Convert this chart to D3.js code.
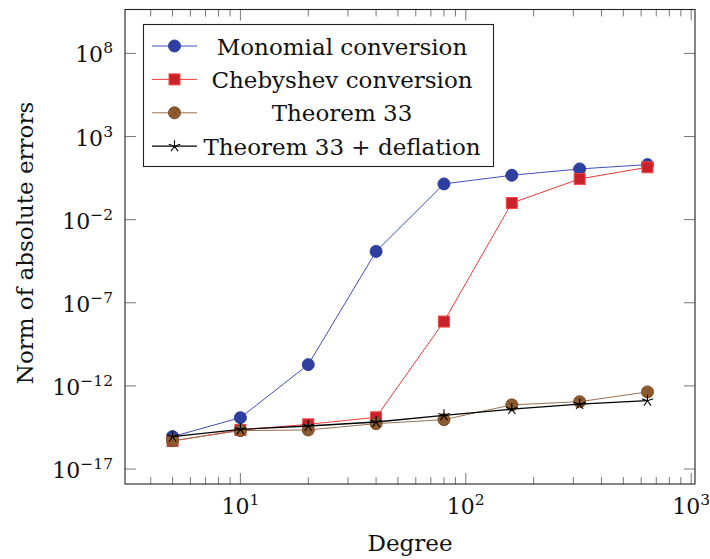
<!DOCTYPE html>
<html lang="en">
<head>
<meta charset="UTF-8">
<title>Norm of absolute errors vs degree</title>
<script src="https://d3js.org/d3.v7.min.js"></script>
<style>
  body { margin: 0; background: #fff; }
  text { font-family: "DejaVu Serif", serif; fill: #111; }
</style>
</head>
<body>
<svg width="710" height="559"></svg>
<script>
// data
const degrees = [5, 10, 20, 40, 80, 160, 320, 640];
const monomial  = [-15.05, -13.91, -10.72, -3.91, 0.15, 0.67, 1.05, 1.31];   // log10
const chebyshev = [-15.31, -14.65, -14.31, -13.89, -8.13, -1.00, 0.45, 1.15];
const theorem33 = [-15.30, -14.69, -14.65, -14.27, -14.03, -13.14, -12.95, -12.36];
const deflation = [-15.05, -14.61, -14.41, -14.17, -13.77, -13.40, -13.10, -12.89];
const seriesNames = ["Monomial conversion", "Chebyshev conversion", "Theorem 33", "Theorem 33 + deflation"];
const xTickExp = [1, 2, 3];
const yTickExp = [-17, -12, -7, -2, 3, 8];

const svg = d3.select("svg");
const pLeft = 125, pRight = 695, pTop = 9.5, pBottom = 484;

const x = d3.scaleLog().domain([Math.pow(10, 0.488), Math.pow(10, 3.017)]).range([pLeft, pRight]);
const y = d3.scaleLog().domain([Math.pow(10, -17.9), Math.pow(10, 10.64)]).range([pBottom, pTop]);

const series = [
  { name: seriesNames[0], vals: monomial,  line: "#4050b8", fill: "#2f3f9f", stroke: "#2f3f9f", mark: "circle" },
  { name: seriesNames[1], vals: chebyshev, line: "#f03a3a", fill: "#c9222b", stroke: "#f04848", mark: "square" },
  { name: seriesNames[2], vals: theorem33, line: "#9a7352", fill: "#8e5c30", stroke: "#7a4e26", mark: "otimes" },
  { name: seriesNames[3], vals: deflation, line: "#000",    fill: "none",    stroke: "#000",    mark: "star" }
];

// ticks
const xMinor = [];
for (let e = 0; e < 3; e++) for (let k = 2; k <= 9; k++) {
  const v = k * Math.pow(10, e);
  if (v >= x.domain()[0] && v <= x.domain()[1]) xMinor.push(v);
}
const ticks = svg.append("g").attr("stroke", "#555").attr("stroke-width", 0.8);
xMinor.forEach(v => {
  ticks.append("line").attr("x1", x(v)).attr("x2", x(v)).attr("y1", pBottom).attr("y2", pBottom - 7);
  ticks.append("line").attr("x1", x(v)).attr("x2", x(v)).attr("y1", pTop).attr("y2", pTop + 7);
});
xTickExp.forEach(e => {
  const v = Math.pow(10, e);
  ticks.append("line").attr("x1", x(v)).attr("x2", x(v)).attr("y1", pBottom).attr("y2", pBottom - 11);
  ticks.append("line").attr("x1", x(v)).attr("x2", x(v)).attr("y1", pTop).attr("y2", pTop + 11);
});
yTickExp.forEach(e => {
  const v = Math.pow(10, e);
  ticks.append("line").attr("x1", pLeft).attr("x2", pLeft + 11).attr("y1", y(v)).attr("y2", y(v));
  ticks.append("line").attr("x1", pRight).attr("x2", pRight - 11).attr("y1", y(v)).attr("y2", y(v));
});

function powLabel(g, e, px, py, anchor) {
  const t = g.append("text").attr("x", px).attr("y", py).attr("text-anchor", anchor)
    .style("font-size", "22px");
  t.append("tspan").text("10");
  t.append("tspan").attr("dy", -9).style("font-size", "15.5px")
    .text(e < 0 ? "\u2212" + (-e) : String(e));
}
const labels = svg.append("g");
xTickExp.forEach(e => powLabel(labels, e, x(Math.pow(10, e)), 514, "middle"));
yTickExp.forEach(e => powLabel(labels, e, 113, y(Math.pow(10, e)) + 9, "end"));

svg.append("text").attr("x", 410).attr("y", 551).attr("text-anchor", "middle")
  .style("font-size", "23px").text("Degree");
svg.append("text").attr("transform", "translate(33,243) rotate(-90)").attr("text-anchor", "middle")
  .style("font-size", "23px").text("Norm of absolute errors");

// markers
function drawMark(g, s, cx, cy) {
  if (s.mark === "circle") {
    g.append("circle").attr("cx", cx).attr("cy", cy).attr("r", 6).attr("fill", s.fill).attr("stroke", s.stroke);
  } else if (s.mark === "square") {
    g.append("rect").attr("x", cx - 5.5).attr("y", cy - 5.5).attr("width", 11).attr("height", 11)
      .attr("fill", s.fill).attr("stroke", s.stroke).attr("stroke-width", 1);
  } else if (s.mark === "otimes") {
    g.append("circle").attr("cx", cx).attr("cy", cy).attr("r", 6).attr("fill", s.fill).attr("stroke", s.stroke);
    const d = 6 * Math.SQRT1_2;
    g.append("path").attr("d", `M${cx - d},${cy - d}L${cx + d},${cy + d}M${cx - d},${cy + d}L${cx + d},${cy - d}`)
      .attr("stroke", s.stroke).attr("stroke-width", 0.8);
  } else {
    let p = "";
    for (let i = 0; i < 5; i++) {
      const a = -Math.PI / 2 + i * 2 * Math.PI / 5;
      p += `M${cx},${cy}L${cx + 6 * Math.cos(a)},${cy + 6 * Math.sin(a)}`;
    }
    g.append("path").attr("d", p).attr("stroke", s.stroke).attr("stroke-width", 1.1).attr("fill", "none");
  }
}

const line = d3.line().x(d => x(d[0])).y(d => y(Math.pow(10, d[1])));
const plot = svg.append("g");
series.forEach(s => {
  const pts = degrees.map((dg, i) => [dg, s.vals[i]]);
  plot.append("path").attr("d", line(pts)).attr("fill", "none")
    .attr("stroke", s.line).attr("stroke-width", s.mark === "star" ? 1.3 : 1);
  pts.forEach(p => drawMark(plot, s, x(p[0]), y(Math.pow(10, p[1]))));
});

// frame
svg.append("rect").attr("x", pLeft).attr("y", pTop).attr("width", pRight - pLeft).attr("height", pBottom - pTop)
  .attr("fill", "none").attr("stroke", "#222").attr("stroke-width", 1.1);

// legend
const lg = svg.append("g");
lg.append("rect").attr("x", 143.5).attr("y", 24.5).attr("width", 350).attr("height", 142)
  .attr("fill", "#fff").attr("stroke", "#222").attr("stroke-width", 1.1);
series.forEach((s, i) => {
  const cy = 46 + i * 33.4;
  lg.append("line").attr("x1", 152).attr("x2", 197).attr("y1", cy).attr("y2", cy)
    .attr("stroke", s.line).attr("stroke-width", s.mark === "star" ? 1.3 : 1);
  drawMark(lg, s, 174.5, cy);
  lg.append("text").attr("x", 342).attr("y", cy + 8.5).attr("text-anchor", "middle")
    .style("font-size", "23px").text(s.name);
});
</script>
</body>
</html>
